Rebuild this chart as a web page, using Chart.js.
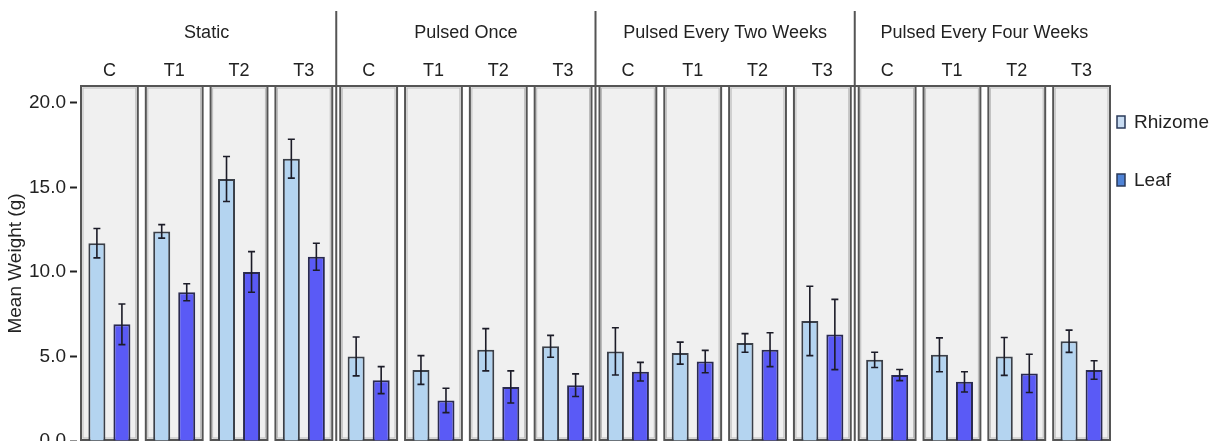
<!DOCTYPE html>
<html>
<head>
<meta charset="utf-8">
<script src="https://cdn.jsdelivr.net/npm/chart.js@4.4.1/dist/chart.umd.min.js"></script>
<style>
  html, body { margin: 0; padding: 0; background: #fff; }
  #wrap { width: 1213px; height: 441px; }
</style>
</head>
<body>
<div id="wrap"><canvas id="weightChart" width="1213" height="441"></canvas></div>
<script>
const groups = ['Static', 'Pulsed Once', 'Pulsed Every Two Weeks', 'Pulsed Every Four Weeks'];
const treatments = ['C', 'T1', 'T2', 'T3'];
const categories = groups.flatMap(() => treatments);

const rhizome = [11.7, 12.4, 15.5, 16.7, 5.0, 4.2, 5.4, 5.6, 5.3, 5.2, 5.8, 7.1, 4.8, 5.1, 5.0, 5.9];
const rhizomeErr = [0.87, 0.4, 1.33, 1.15, 1.15, 0.85, 1.25, 0.65, 1.4, 0.65, 0.55, 2.05, 0.45, 1.0, 1.12, 0.66];
const leaf = [6.9, 8.8, 10.0, 10.9, 3.6, 2.4, 3.2, 3.3, 4.1, 4.7, 5.4, 6.3, 3.9, 3.5, 4.0, 4.2];
const leafErr = [1.2, 0.5, 1.2, 0.8, 0.8, 0.72, 0.95, 0.67, 0.55, 0.66, 1.0, 2.08, 0.33, 0.6, 1.13, 0.55];

const yTicks = [0, 5, 10, 15, 20];

const FONT = "'Liberation Sans', Arial, sans-serif";
const TEXT = '#222';

// grey panel behind each treatment
const panelPlugin = {
    id: 'panels',
    beforeDatasetsDraw(chart) {
        const { ctx, chartArea, scales } = chart;
        const x = scales.x;
        const step = x.getPixelForValue(1) - x.getPixelForValue(0);
        const w = step - 8;
        const h = chartArea.bottom - chartArea.top - 1;
        ctx.save();
        for (let i = 0; i < categories.length; i++) {
            const cx = x.getPixelForValue(i);
            ctx.fillStyle = '#f0f0f0';
            ctx.fillRect(cx - w / 2, chartArea.top, w, h);
            ctx.strokeStyle = '#555';
            ctx.lineWidth = 2;
            ctx.strokeRect(cx - w / 2, chartArea.top, w, h);
            // faint inner edge, like the original
            ctx.strokeStyle = '#bbb';
            ctx.lineWidth = 1;
            ctx.strokeRect(cx - w / 2 + 2, chartArea.top + 2, w - 4, h - 4);
        }
        ctx.restore();
    }
};

// error bars on top of the bars
const errorBarPlugin = {
    id: 'errorBars',
    afterDatasetsDraw(chart) {
        const { ctx, scales } = chart;
        const y = scales.y;
        ctx.save();
        ctx.strokeStyle = '#1c1c28';
        ctx.lineWidth = 1.6;
        chart.data.datasets.forEach((ds, di) => {
            const meta = chart.getDatasetMeta(di);
            meta.data.forEach((bar, i) => {
                const hi = y.getPixelForValue(ds.data[i] + ds.errors[i]);
                const lo = y.getPixelForValue(ds.data[i] - ds.errors[i]);
                ctx.beginPath();
                ctx.moveTo(bar.x, hi);
                ctx.lineTo(bar.x, lo);
                ctx.moveTo(bar.x - 3.5, hi);
                ctx.lineTo(bar.x + 3.5, hi);
                ctx.moveTo(bar.x - 3.5, lo);
                ctx.lineTo(bar.x + 3.5, lo);
                ctx.stroke();
            });
        });
        ctx.restore();
    }
};

// group titles, separators and legend
const framePlugin = {
    id: 'frame',
    afterDraw(chart) {
        const { ctx, chartArea, scales } = chart;
        const x = scales.x;
        const step = x.getPixelForValue(1) - x.getPixelForValue(0);
        ctx.save();
        ctx.strokeStyle = '#555';
        ctx.lineWidth = 2;
        ctx.beginPath();
        ctx.moveTo(chartArea.left + 4, chartArea.top);
        ctx.lineTo(chartArea.right - 4, chartArea.top);
        ctx.stroke();

        ctx.fillStyle = TEXT;
        ctx.font = '18px ' + FONT;
        ctx.textAlign = 'center';
        ctx.textBaseline = 'middle';
        groups.forEach((g, gi) => {
            const mid = (x.getPixelForValue(gi * 4 + 1) + x.getPixelForValue(gi * 4 + 2)) / 2;
            ctx.fillText(g, mid, 33);
            if (gi > 0) {
                const sx = x.getPixelForValue(gi * 4) - step / 2;
                ctx.strokeStyle = '#555';
                ctx.lineWidth = 2;
                ctx.beginPath();
                ctx.moveTo(sx, 11);
                ctx.lineTo(sx, chartArea.bottom);
                ctx.stroke();
            }
        });

        // legend
        const items = [
            { label: chart.data.datasets[0].label, fill: '#c8dcf2', y: 122 },
            { label: chart.data.datasets[1].label, fill: '#4f83d6', y: 180 }
        ];
        ctx.textAlign = 'left';
        ctx.font = '19px ' + FONT;
        items.forEach(it => {
            ctx.fillStyle = it.fill;
            ctx.fillRect(1117, it.y - 6, 8, 12);
            ctx.strokeStyle = '#2a3a5a';
            ctx.lineWidth = 1.5;
            ctx.strokeRect(1117, it.y - 6, 8, 12);
            ctx.fillStyle = TEXT;
            ctx.fillText(it.label, 1134, it.y + 1);
        });
        ctx.restore();
    }
};

function renderChart() {
    const ctx = document.getElementById('weightChart').getContext('2d');
    return new Chart(ctx, {
        type: 'bar',
        data: {
            labels: categories,
            datasets: [{
                label: 'Rhizome',
                data: rhizome,
                errors: rhizomeErr,
                backgroundColor: '#b4d4f0',
                borderColor: '#3a3f48',
                borderWidth: 2,
                categoryPercentage: 0.772,
                barPercentage: 0.68
            }, {
                label: 'Leaf',
                data: leaf,
                errors: leafErr,
                backgroundColor: '#5a5af6',
                borderColor: '#2a2a50',
                borderWidth: 2,
                categoryPercentage: 0.772,
                barPercentage: 0.68
            }]
        },
        options: {
            responsive: false,
            animation: false,
            devicePixelRatio: 1,
            layout: { padding: { left: 0, right: 99, top: 0, bottom: 0 } },
            plugins: {
                legend: { display: false },
                tooltip: { enabled: false }
            },
            scales: {
                x: {
                    position: 'top',
                    offset: true,
                    grid: { display: false },
                    border: { display: false },
                    ticks: {
                        color: TEXT,
                        font: { family: FONT, size: 18 },
                        padding: -4,
                        maxRotation: 0,
                        autoSkip: false
                    },
                    afterFit(scale) {
                        scale.height = 86;
                        scale.paddingLeft = 0;
                        scale.paddingRight = 0;
                    }
                },
                y: {
                    min: 0,
                    max: 21,
                    afterBuildTicks(scale) {
                        scale.ticks = yTicks.map(v => ({ value: v }));
                    },
                    ticks: {
                        color: TEXT,
                        font: { family: FONT, size: 19 },
                        padding: 4,
                        callback: v => v.toFixed(1)
                    },
                    grid: {
                        drawOnChartArea: false,
                        tickLength: 7,
                        tickWidth: 2,
                        color: '#222'
                    },
                    border: { display: false },
                    title: {
                        display: true,
                        text: 'Mean Weight (g)',
                        color: TEXT,
                        font: { family: FONT, size: 19 },
                        padding: { top: 4, bottom: 0 }
                    },
                    afterFit(scale) {
                        scale.width = 77;
                        scale.paddingTop = 0;
                        scale.paddingBottom = 0;
                    }
                }
            }
        },
        plugins: [panelPlugin, errorBarPlugin, framePlugin]
    });
}

renderChart();
</script>
</body>
</html>
